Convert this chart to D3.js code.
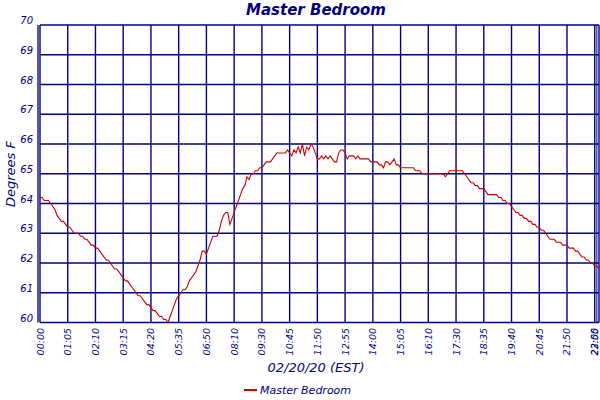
<!DOCTYPE html>
<html><head><meta charset="utf-8">
<script src="https://cdn.jsdelivr.net/npm/d3@7"></script>
<style>body{margin:0;background:#fff}text{font-family:"DejaVu Sans",sans-serif;font-style:italic;fill:#000080}</style>
</head><body><svg id="c" width="600" height="400"></svg>
<script>
const title = "Master Bedroom";
const xTitle = "02/20/20 (EST)";
const yTitle = "Degrees F";
const yTicks = [60,61,62,63,64,65,66,67,68,69,70];
const xTickIdx = [0,13,26,39,52,65,78,91,104,117,130,143,156,169,182,195,208,221,234,247,260,262];
const xTickLabels = ["00:00","01:05","02:10","03:15","04:20","05:35","06:50","08:10","09:30","10:45","11:50","12:55","14:00","15:05","16:10","17:30","18:35","19:40","20:45","21:50","22:55","23:00"];
const temps = [
64.2,64.2,64.1,64.1,64.1,64.0,63.9,63.8,63.6,63.5,
63.4,63.4,63.3,63.2,63.2,63.1,63.0,63.0,63.0,62.9,
62.9,62.8,62.8,62.7,62.6,62.6,62.5,62.5,62.4,62.3,
62.2,62.1,62.1,62.0,61.9,61.8,61.8,61.7,61.6,61.5,
61.4,61.4,61.3,61.2,61.1,61.0,60.9,60.9,60.8,60.7,
60.6,60.6,60.5,60.4,60.4,60.3,60.2,60.2,60.1,60.1,
60.0,60.2,60.4,60.6,60.8,60.9,61.0,61.1,61.1,61.2,
61.4,61.5,61.6,61.7,61.9,62.1,62.4,62.4,62.3,62.5,
62.7,62.9,62.9,62.9,63.1,63.4,63.6,63.7,63.7,63.3,
63.5,63.7,63.9,64.1,64.3,64.5,64.6,64.9,64.8,65.0,
65.0,65.1,65.1,65.2,65.2,65.3,65.4,65.4,65.4,65.5,
65.6,65.7,65.7,65.7,65.7,65.7,65.8,65.7,65.6,65.8,
65.7,65.9,65.7,66.0,65.6,65.9,65.8,66.0,65.9,65.7,
65.5,65.5,65.6,65.5,65.6,65.5,65.6,65.5,65.4,65.4,
65.7,65.8,65.8,65.7,65.5,65.6,65.6,65.6,65.5,65.6,
65.5,65.5,65.5,65.5,65.5,65.4,65.4,65.4,65.4,65.3,
65.3,65.2,65.4,65.4,65.3,65.4,65.5,65.3,65.3,65.2,
65.2,65.2,65.2,65.2,65.2,65.2,65.1,65.1,65.1,65.0,
65.0,65.0,65.0,65.0,65.0,65.0,65.0,65.0,65.0,65.0,
64.9,65.0,65.1,65.1,65.1,65.1,65.1,65.1,65.1,65.0,
64.9,64.8,64.7,64.7,64.6,64.6,64.5,64.5,64.5,64.4,
64.3,64.3,64.3,64.3,64.3,64.2,64.2,64.1,64.1,64.0,
64.0,63.9,63.8,63.7,63.7,63.6,63.6,63.5,63.5,63.4,
63.4,63.3,63.3,63.2,63.2,63.1,63.1,63.0,62.9,62.8,
62.8,62.8,62.7,62.7,62.7,62.6,62.6,62.6,62.5,62.5,
62.5,62.4,62.4,62.3,62.2,62.2,62.1,62.1,62.0,62.0,
61.9,61.9,61.8];

const svg = d3.select("#c");
const L=40,R=599,T=25,B=322.5;
const x = d3.scaleLinear().domain([0,temps.length-1]).range([L,R]);
const y = d3.scaleLinear().domain([60,70]).range([B,T]);
const navy="#000080";

svg.append("g").selectAll("line").data(yTicks).join("line")
  .attr("x1",L).attr("x2",R).attr("y1",d=>y(d)).attr("y2",d=>y(d))
  .attr("stroke",navy).attr("stroke-width",1.4);
svg.append("g").selectAll("line").data(xTickIdx).join("line")
  .attr("x1",d=>x(d)).attr("x2",d=>x(d)).attr("y1",T).attr("y2",B)
  .attr("stroke",navy).attr("stroke-width",1.4);
svg.append("line").attr("x1",L-2).attr("x2",L-2).attr("y1",T).attr("y2",B).attr("stroke",navy).attr("stroke-width",1.3);
svg.append("line").attr("x1",x(261)).attr("x2",x(261)).attr("y1",T).attr("y2",B).attr("stroke",navy).attr("stroke-width",1);

svg.append("path").datum(temps)
  .attr("d",d3.line().x((d,i)=>x(i)).y(d=>y(d)))
  .attr("fill","none").attr("stroke","#cc0000").attr("stroke-width",1.1);

svg.append("g").selectAll("text").data(yTicks).join("text")
  .attr("x",33).attr("y",d=>y(d)-1).attr("text-anchor","end")
  .attr("font-size",10).text(d=>d);

svg.append("g").selectAll("text").data(xTickIdx).join("text")
  .attr("transform",d=>`translate(${Math.min(x(d)+3.5,598)},328) rotate(-90)`)
  .attr("text-anchor","end").attr("font-size",9.5)
  .text((d,i)=>xTickLabels[i]);

svg.append("text").attr("x",316).attr("y",15).attr("text-anchor","middle")
  .attr("font-size",15).attr("font-weight","bold").text(title);
svg.append("text").attr("x",316).attr("y",372).attr("text-anchor","middle")
  .attr("font-size",13).text(xTitle);
svg.append("text").attr("transform","translate(15,174) rotate(-90)").attr("text-anchor","middle")
  .attr("font-size",13).text(yTitle);

svg.append("line").attr("x1",244).attr("x2",257).attr("y1",390).attr("y2",390)
  .attr("stroke","#cc0000").attr("stroke-width",2);
svg.append("text").attr("x",260).attr("y",394).attr("font-size",11).text(title);
</script></body></html>
